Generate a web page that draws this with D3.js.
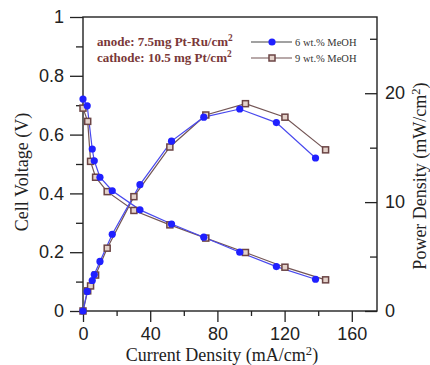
<!DOCTYPE html>
<html>
<head>
<meta charset="utf-8">
<script src="https://cdn.jsdelivr.net/npm/d3@7"></script>
<style>
  html, body { margin: 0; padding: 0; background: #fff; }
  svg { display: block; }
</style>
</head>
<body>
<div id="chart"></div>
<script>
// current density (mA/cm2), cell voltage (V), power density (mW/cm2)
const curr6 = [0, 2.5, 5.5, 6.7, 10.1, 17.4, 33.9, 52.7, 71.9, 93.3, 115.1, 138.4];
const volt6 = [0.721, 0.698, 0.551, 0.511, 0.455, 0.409, 0.344, 0.296, 0.251, 0.200, 0.151, 0.108];
const pow6 = [0, 1.8, 2.8, 3.35, 4.55, 7.05, 11.6, 15.6, 17.8, 18.55, 17.3, 14.05];

const curr9 = [0, 2.8, 4.5, 7.5, 14.4, 30.3, 51.7, 73.1, 96.7, 120.2, 144.4];
const volt9 = [0.69, 0.645, 0.509, 0.455, 0.406, 0.342, 0.293, 0.248, 0.199, 0.149, 0.106];
const pow9 = [0, 1.85, 2.3, 3.3, 5.77, 10.5, 15.06, 18.0, 19.04, 17.8, 14.8];

const seriesNames = ["6 wt.% MeOH", "9 wt.% MeOH"];
const xTicks = [0, 40, 80, 120, 160];
const xMinor = [20, 60, 100, 140];
const yTicks = [0, 0.2, 0.4, 0.6, 0.8, 1];
const yTickLabels = ["0", "0.2", "0.4", "0.6", "0.8", "1"];
const yMinor = [0.1, 0.3, 0.5, 0.7, 0.9];
const pTicks = [0, 10, 20];
const pMinor = [5, 15, 25];

const width = 430, height = 365;
const mLeft = 83, mRight = 377, mTop = 17, mBottom = 311;

const x = d3.scaleLinear([0, 175], [mLeft, mRight]);
const yV = d3.scaleLinear([0, 1], [mBottom, mTop]);
const yP = d3.scaleLinear([0, 27], [mBottom, mTop]);

const blue = "#2020ff", blueLine = "#4848ee";
const brown = "#6b4444", brownLine = "#735555", brownFill = "#e4d2ca";
const axisColor = "#222";

const svg = d3.select("#chart").append("svg")
  .attr("width", width)
  .attr("height", height)
  .attr("viewBox", [0, 0, width, height]);

const sans = "'Liberation Sans', Arial, sans-serif";
const serif = "'Liberation Serif', 'Times New Roman', serif";

function styleAxis(g) {
  g.select(".domain").remove();
  g.selectAll(".tick line").attr("stroke", axisColor).attr("stroke-width", 1.3);
  g.selectAll(".tick text").attr("fill", axisColor)
    .attr("font-family", sans).attr("font-size", 18);
}

// left axis
svg.append("g")
  .attr("transform", `translate(${mLeft},0)`)
  .call(d3.axisLeft(yV).tickValues(yTicks).tickSize(13).tickPadding(6)
    .tickFormat((d, i) => yTickLabels[i]))
  .call(styleAxis);
svg.append("g")
  .attr("transform", `translate(${mLeft},0)`)
  .call(d3.axisLeft(yV).tickValues(yMinor).tickSize(7).tickFormat(""))
  .call(styleAxis);

// bottom axis
svg.append("g")
  .attr("transform", `translate(0,${mBottom})`)
  .call(d3.axisBottom(x).tickValues(xTicks).tickSize(11).tickPadding(5))
  .call(styleAxis);
svg.append("g")
  .attr("transform", `translate(0,${mBottom})`)
  .call(d3.axisBottom(x).tickValues(xMinor).tickSize(5).tickFormat(""))
  .call(styleAxis);

// right axis (ticks point inward)
svg.append("g")
  .attr("transform", `translate(${mRight},0)`)
  .call(d3.axisRight(yP).tickValues(pTicks).tickSize(-12).tickPadding(8))
  .call(styleAxis);
svg.append("g")
  .attr("transform", `translate(${mRight},0)`)
  .call(d3.axisRight(yP).tickValues(pMinor).tickSize(-7).tickFormat(""))
  .call(styleAxis);

// frame
svg.append("rect")
  .attr("x", mLeft).attr("y", mTop)
  .attr("width", mRight - mLeft).attr("height", mBottom - mTop)
  .attr("fill", "none").attr("stroke", axisColor).attr("stroke-width", 1.4);

// lines
const lineV = d3.line().x(d => x(d[0])).y(d => yV(d[1]));
const lineP = d3.line().x(d => x(d[0])).y(d => yP(d[1]));

const data6V = d3.zip(curr6, volt6), data6P = d3.zip(curr6, pow6);
const data9V = d3.zip(curr9, volt9), data9P = d3.zip(curr9, pow9);

[[data9V, lineV], [data9P, lineP]].forEach(([d, l]) => {
  svg.append("path").attr("d", l(d)).attr("fill", "none")
    .attr("stroke", brownLine).attr("stroke-width", 1.2);
});
[[data6V, lineV], [data6P, lineP]].forEach(([d, l]) => {
  svg.append("path").attr("d", l(d)).attr("fill", "none")
    .attr("stroke", blueLine).attr("stroke-width", 1.2);
});

function squares(d, y) {
  svg.append("g").selectAll("rect").data(d).join("rect")
    .attr("x", p => x(p[0]) - 3).attr("y", p => y(p[1]) - 3)
    .attr("width", 6).attr("height", 6)
    .attr("fill", brownFill).attr("stroke", brown).attr("stroke-width", 1.5);
}
function dots(d, y) {
  svg.append("g").selectAll("circle").data(d).join("circle")
    .attr("cx", p => x(p[0])).attr("cy", p => y(p[1])).attr("r", 3.6)
    .attr("fill", blue);
}
squares(data9V, yV); squares(data9P, yP);
dots(data6V, yV); dots(data6P, yP);

// annotation
const ann = svg.append("g").attr("font-family", serif).attr("font-weight", "bold")
  .attr("font-size", 13).attr("fill", "#7a3838");
function supText(g, xPos, yPos, main, sup) {
  const t = g.append("text").attr("x", xPos).attr("y", yPos);
  t.append("tspan").text(main);
  t.append("tspan").attr("dy", -5).attr("font-size", "0.72em").text(sup);
  return t;
}
supText(ann, 97, 46, "anode: 7.5mg Pt-Ru/cm", "2");
supText(ann, 97, 62, "cathode: 10.5 mg Pt/cm", "2");

// legend
const legend = svg.append("g");
const legendY = [42, 58];
legendY.forEach((ly, i) => {
  legend.append("line").attr("x1", 251).attr("x2", 292).attr("y1", ly).attr("y2", ly)
    .attr("stroke", i === 0 ? "#444" : brownLine).attr("stroke-width", 1.2);
  if (i === 0) {
    legend.append("circle").attr("cx", 272).attr("cy", ly).attr("r", 3.6).attr("fill", blue);
  } else {
    legend.append("rect").attr("x", 269).attr("y", ly - 3).attr("width", 6).attr("height", 6)
      .attr("fill", brownFill).attr("stroke", brown).attr("stroke-width", 1.5);
  }
  legend.append("text").attr("x", 295).attr("y", ly + 4)
    .attr("font-family", serif).attr("font-size", 10.5).attr("fill", "#333")
    .text(seriesNames[i]);
});

// axis titles
const xt = svg.append("text").attr("x", (mLeft + mRight) / 2 - 8).attr("y", 361)
  .attr("text-anchor", "middle").attr("font-family", serif).attr("font-size", 18)
  .attr("fill", axisColor);
xt.append("tspan").text("Current Density (mA/cm");
xt.append("tspan").attr("dy", -6).attr("font-size", "0.7em").text("2");
xt.append("tspan").attr("dy", 6).text(")");

svg.append("text").attr("transform", `translate(28,${(mTop + mBottom) / 2 + 8}) rotate(-90)`)
  .attr("text-anchor", "middle").attr("font-family", serif).attr("font-size", 18)
  .attr("fill", axisColor).text("Cell Voltage (V)");

const rt = svg.append("text").attr("transform", `translate(426,${(mTop + mBottom) / 2 + 12}) rotate(-90)`)
  .attr("text-anchor", "middle").attr("font-family", serif).attr("font-size", 18)
  .attr("fill", axisColor);
rt.append("tspan").text("Power Density (mW/cm");
rt.append("tspan").attr("dy", -6).attr("font-size", "0.7em").text("2");
rt.append("tspan").attr("dy", 6).text(")");
</script>
</body>
</html>
